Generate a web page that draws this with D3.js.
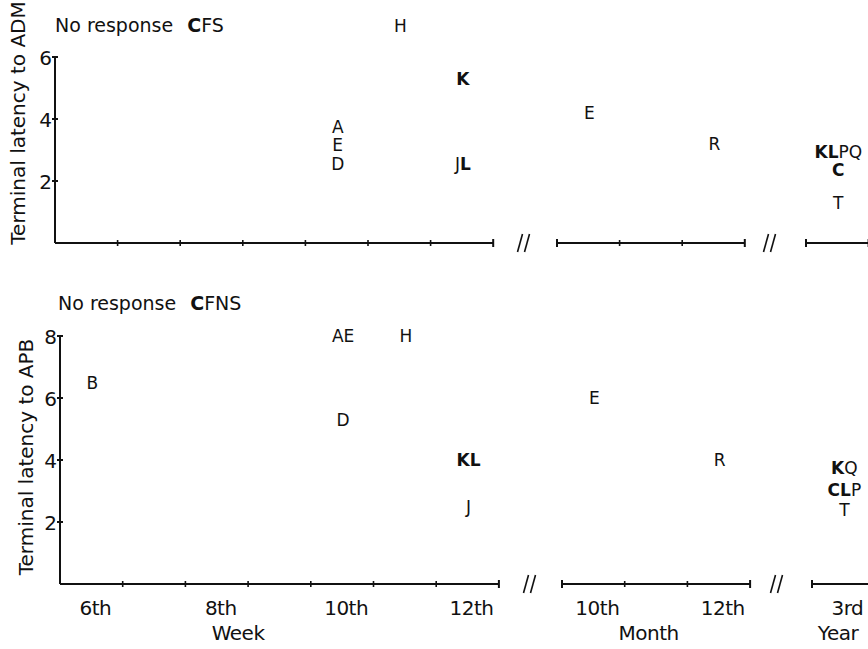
<!DOCTYPE html>
<html><head><meta charset="utf-8">
<script src="https://cdn.jsdelivr.net/npm/d3@7"></script>
<style>
body{margin:0;background:#fff}
text{font-family:"DejaVu Sans","Liberation Sans",Arial,sans-serif;fill:#111}
</style>
</head><body>
<svg id="c" width="868" height="649"></svg>
<script>
// ---------- data ----------
const weekCats = ["6th","7th","8th","9th","10th","11th","12th"];
const monthCats = ["10th","11th","12th"];
const yearCats = ["3rd"];
const weekTickLabels = ["6th","8th","10th","12th"];
const monthTickLabels = ["10th","12th"];
const yearTickLabels = ["3rd"];
const unitLabels = ["Week","Month","Year"];
const boldPatients = ["C","K","L"];

const admTicks = [2,4,6];
const admTitle = "Terminal latency to ADM";
const admNoResponse = "CFS";
// [time unit, category, terminal latency (ms), patients]
const admUnits   = ["week","week","week","week","week","week","month","month","year","year","year"];
const admCats    = ["10th","10th","10th","11th","12th","12th","10th","12th","3rd","3rd","3rd"];
const admValues  = [3.75, 3.15, 2.55, 7.0, 5.3, 2.55, 4.2, 3.2, 2.95, 2.35, 1.3];
const admLabels  = ["A","E","D","H","K","JL","E","R","KLPQ","C","T"];

const apbTicks = [2,4,6,8];
const apbTitle = "Terminal latency to APB";
const apbNoResponse = "CFNS";
const apbUnits   = ["week","week","week","week","week","week","month","month","year","year","year"];
const apbCats    = ["6th","10th","10th","11th","12th","12th","10th","12th","3rd","3rd","3rd"];
const apbValues  = [6.5, 8.0, 5.3, 8.0, 4.0, 2.5, 6.0, 4.0, 3.75, 3.05, 2.4];
const apbLabels  = ["B","AE","D","H","KL","J","E","R","KQ","CLP","T"];

// ---------- layout ----------
const svg = d3.select("#c");
const panels = [
  {ticks:admTicks, max:6, title:admTitle, nr:admNoResponse,
   units:admUnits, cats:admCats, vals:admValues, labels:admLabels,
   x0:55, bw:62.6, monthX:557, yearX:806, y0:243, yTopPx:57,
   breaks:[524,770], titleX:25, titleY:123, nrX:55, nrY:32, xlabels:false},
  {ticks:apbTicks, max:8, title:apbTitle, nr:apbNoResponse,
   units:apbUnits, cats:apbCats, vals:apbValues, labels:apbLabels,
   x0:60, bw:62.7, monthX:562, yearX:812, y0:584, yTopPx:336,
   breaks:[530,777], titleX:33, titleY:457, nrX:58, nrY:310, xlabels:true}
];

panels.forEach(p => {
  const g = svg.append("g");
  const y = d3.scaleLinear().domain([0, p.max]).range([p.y0, p.yTopPx]);
  const xs = {
    week: d3.scaleBand().domain(weekCats).range([p.x0, p.x0 + weekCats.length*p.bw]),
    month: d3.scaleBand().domain(monthCats).range([p.monthX, p.monthX + monthCats.length*p.bw]),
    year: d3.scaleBand().domain(yearCats).range([p.yearX, p.yearX + yearCats.length*p.bw])
  };

  // y axis
  g.append("line").attr("x1",p.x0).attr("x2",p.x0).attr("y1",y(p.max)).attr("y2",y(0))
    .attr("stroke","#111").attr("stroke-width",2);
  p.ticks.forEach(t => {
    g.append("line").attr("x1",p.x0-3).attr("x2",p.x0+3).attr("y1",y(t)).attr("y2",y(t))
      .attr("stroke","#111").attr("stroke-width",2);
    g.append("text").attr("x",p.x0-3).attr("y",y(t)).attr("dy","0.38em")
      .attr("text-anchor","end").attr("font-size",20).text(t);
  });
  g.append("text").attr("transform",`translate(${p.titleX},${p.titleY}) rotate(-90)`)
    .attr("text-anchor","middle").attr("font-size",20).text(p.title);

  // x axis segments
  const segs = [
    {s:xs.week, cats:weekCats, startCap:false},
    {s:xs.month, cats:monthCats, startCap:true},
    {s:xs.year, cats:yearCats, startCap:true}
  ];
  segs.forEach(sg => {
    const [a,b] = sg.s.range();
    g.append("line").attr("x1",a).attr("x2",b).attr("y1",p.y0).attr("y2",p.y0)
      .attr("stroke","#111").attr("stroke-width",2);
    sg.cats.forEach((c,i) => {
      if (i===0) {
        if (sg.startCap) g.append("line").attr("x1",a).attr("x2",a).attr("y1",p.y0-4).attr("y2",p.y0+4)
          .attr("stroke","#111").attr("stroke-width",2);
      } else {
        const xx = sg.s(c);
        g.append("line").attr("x1",xx).attr("x2",xx).attr("y1",p.y0-3).attr("y2",p.y0+3)
          .attr("stroke","#111").attr("stroke-width",1.6);
      }
    });
    g.append("line").attr("x1",b).attr("x2",b).attr("y1",p.y0-4).attr("y2",p.y0+4)
      .attr("stroke","#111").attr("stroke-width",2);
  });

  // break marks
  p.breaks.forEach(bx => {
    [-3.5,3.5].forEach(off => {
      g.append("line").attr("x1",bx+off-3).attr("y1",p.y0+9).attr("x2",bx+off+2).attr("y2",p.y0-9)
        .attr("stroke","#111").attr("stroke-width",1.6);
    });
  });

  // x labels
  if (p.xlabels) {
    const lbl = [[xs.week,weekTickLabels],[xs.month,monthTickLabels],[xs.year,yearTickLabels]];
    lbl.forEach(([s,arr]) => arr.forEach(c => {
      g.append("text").attr("x",s(c)+s.bandwidth()/2+4).attr("y",p.y0+31)
        .attr("text-anchor","middle").attr("font-size",20).attr("letter-spacing",-0.5).text(c);
    }));
    const ux = [xs.week("9th")-10, xs.month("11th")+24, xs.year("3rd")+26];
    unitLabels.forEach((u,i) => {
      g.append("text").attr("x",ux[i]).attr("y",p.y0+56).attr("text-anchor","middle")
        .attr("font-size",20).attr("letter-spacing",-0.5).text(u);
    });
  }

  // "No response" line
  const nr = g.append("text").attr("x",p.nrX).attr("y",p.nrY).attr("font-size",19);
  nr.append("tspan").text("No response");
  p.nr.split("").forEach((ch,i) => {
    const t = nr.append("tspan").text(ch)
      .attr("font-weight", boldPatients.includes(ch) ? "bold" : "normal");
    if (i===0) t.attr("dx",14);
  });

  // data letters
  p.vals.forEach((v,i) => {
    const s = xs[p.units[i]];
    const t = g.append("text").attr("x", s(p.cats[i]) + s.bandwidth()/2 + 1)
      .attr("y", y(v)).attr("dy","0.36em").attr("text-anchor","middle").attr("font-size",17);
    p.labels[i].split("").forEach(ch => {
      t.append("tspan").text(ch).attr("font-weight", boldPatients.includes(ch) ? "bold" : "normal");
    });
  });
});
</script>
</body></html>
